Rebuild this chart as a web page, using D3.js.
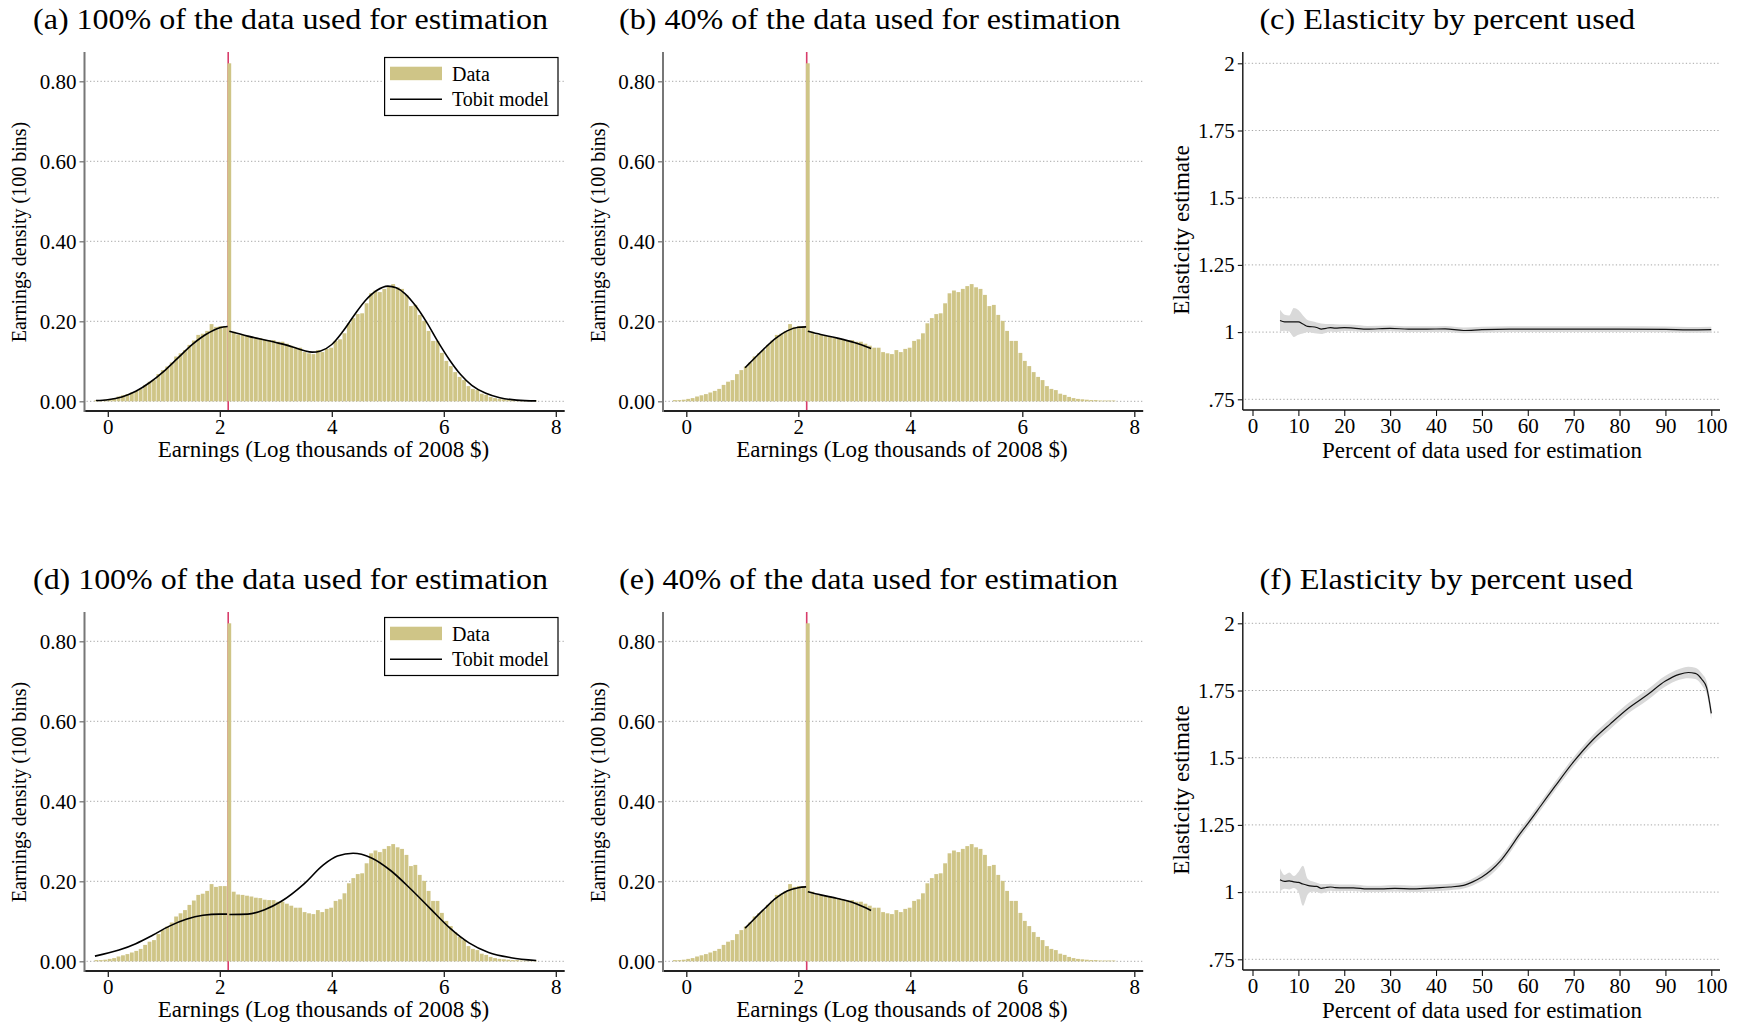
<!DOCTYPE html>
<html>
<head>
<meta charset="utf-8">
<script src="https://cdn.jsdelivr.net/npm/d3@7"></script>
<style>
  body { margin: 0; background: #fff; }
  text { font-family: "Liberation Serif", "Times New Roman", "DejaVu Serif", serif; fill: #000; }
</style>
</head>
<body>
<svg id="chart" width="1743" height="1026" font-family="Liberation Serif, serif"></svg>
<script>
// ---- histogram of log earnings (100 bins, same sample in a, b, d, e)
var binStart = -0.238;
var binWidth = 0.0791;
var earningsDensity = [
  0.003, 0.003, 0.004, 0.006, 0.008, 0.012, 0.015, 0.018, 0.022, 0.026,
  0.031, 0.041, 0.049, 0.053, 0.068, 0.078, 0.087, 0.097, 0.112, 0.120,
  0.128, 0.141, 0.152, 0.166, 0.169, 0.176, 0.193, 0.186, 0.188, 0.188,
  0.845, 0.174, 0.167, 0.166, 0.164, 0.162, 0.159, 0.158, 0.154, 0.153,
  0.153, 0.149, 0.149, 0.144, 0.139, 0.134, 0.134, 0.123, 0.120, 0.118,
  0.128, 0.123, 0.131, 0.134, 0.151, 0.155, 0.170, 0.195, 0.208, 0.218,
  0.220, 0.245, 0.270, 0.277, 0.273, 0.281, 0.288, 0.293, 0.285, 0.281,
  0.266, 0.238, 0.241, 0.216, 0.201, 0.176, 0.151, 0.151, 0.121, 0.101,
  0.088, 0.073, 0.061, 0.053, 0.038, 0.031, 0.028, 0.019, 0.016, 0.011,
  0.008, 0.006, 0.005, 0.004, 0.003, 0.003, 0.002, 0.002, 0.002, 0.002
];
var spikeEarnings = 2.15;   // red reference line

// ---- Tobit model densities, [earnings, density]
var tobitA_low = [[-0.21, 0.002], [0, 0.004], [0.25, 0.011], [0.5, 0.025], [0.75, 0.047], [1.0, 0.075],
  [1.25, 0.108], [1.5, 0.141], [1.75, 0.167], [2.0, 0.184], [2.14, 0.187]];
var tobitA_high = [[2.17, 0.175], [2.5, 0.163], [3.0, 0.147], [3.3, 0.136], [3.5, 0.127], [3.65, 0.123],
  [3.8, 0.126], [4.0, 0.142], [4.2, 0.175], [4.4, 0.215], [4.6, 0.252], [4.8, 0.277], [5.0, 0.288],
  [5.15, 0.284], [5.3, 0.27], [5.5, 0.238], [5.7, 0.196], [5.9, 0.148], [6.1, 0.104], [6.3, 0.067],
  [6.5, 0.040], [6.75, 0.020], [7.0, 0.009], [7.3, 0.003], [7.65, 0.001]];
var tobitB_low = [[1.05, 0.084], [1.2, 0.105], [1.4, 0.133], [1.6, 0.158], [1.8, 0.176], [2.0, 0.185], [2.14, 0.186]];
var tobitB_high = [[2.17, 0.175], [2.4, 0.167], [2.7, 0.158], [3.0, 0.147], [3.3, 0.132]];
var tobitD_low = [[-0.23, 0.013], [0.2, 0.028], [0.5, 0.044], [0.8, 0.065], [1.1, 0.088], [1.4, 0.105],
  [1.7, 0.115], [2.0, 0.118], [2.13, 0.118]];
var tobitD_high = [[2.17, 0.117], [2.5, 0.118], [2.8, 0.129], [3.1, 0.150], [3.5, 0.193], [3.85, 0.241],
  [4.1, 0.263], [4.38, 0.270], [4.7, 0.259], [5.05, 0.227], [5.4, 0.182], [5.75, 0.133], [6.1, 0.084],
  [6.45, 0.046], [6.8, 0.022], [7.2, 0.009], [7.65, 0.002]];
var tobitE_low = [[1.05, 0.083], [1.2, 0.104], [1.4, 0.132], [1.6, 0.158], [1.8, 0.176], [2.0, 0.184], [2.14, 0.186]];
var tobitE_high = [[2.17, 0.174], [2.4, 0.166], [2.7, 0.157], [2.95, 0.148], [3.15, 0.137], [3.3, 0.127]];

// ---- elasticity by percent of data used
var pctC = [6, 7, 8, 9, 10, 11, 12, 13, 14, 15, 16, 17, 18, 20, 22, 25, 30, 34, 38, 42, 46, 50, 56, 62, 70, 80, 90, 95, 100];
var estC = [1.043, 1.038, 1.038, 1.038, 1.038, 1.030, 1.021, 1.020, 1.017, 1.011, 1.014, 1.017, 1.015, 1.017, 1.015,
  1.011, 1.014, 1.011, 1.011, 1.012, 1.006, 1.009, 1.011, 1.011, 1.011, 1.011, 1.010, 1.008, 1.009];
var loC = [1.002, 1.005, 1.002, 0.982, 0.990, 0.995, 1.000, 0.998, 0.995, 0.993, 0.998, 1.002, 1.000, 1.004, 1.003,
  1.000, 1.003, 1.000, 1.000, 1.001, 0.996, 0.998, 1.000, 1.000, 1.000, 1.000, 0.999, 0.998, 0.998];
var hiC = [1.083, 1.065, 1.062, 1.090, 1.082, 1.062, 1.045, 1.040, 1.036, 1.032, 1.030, 1.030, 1.029, 1.028, 1.027,
  1.023, 1.025, 1.022, 1.022, 1.023, 1.017, 1.020, 1.022, 1.022, 1.022, 1.022, 1.021, 1.019, 1.020];

var pctF = [6, 7, 8, 9, 10, 11, 12, 13, 14, 15, 16, 17, 18, 20, 22, 25, 28, 31, 35, 40, 43, 46, 48,
  50, 52, 54, 56, 58, 60, 63, 66, 70, 74, 78, 82, 86, 90, 93, 95, 96.5, 98, 99, 100];
var estF = [1.046, 1.040, 1.042, 1.038, 1.036, 1.030, 1.025, 1.022, 1.021, 1.014, 1.017, 1.019, 1.017,
  1.016, 1.016, 1.012, 1.012, 1.014, 1.012, 1.016, 1.019, 1.025, 1.038,
  1.056, 1.081, 1.115, 1.160, 1.210, 1.255, 1.325, 1.395, 1.485, 1.563, 1.626, 1.685, 1.733, 1.785,
  1.810, 1.817, 1.814, 1.790, 1.760, 1.665];
var hiF = [1.089, 1.064, 1.073, 1.060, 1.075, 1.098, 1.050, 1.040, 1.035, 1.030, 1.030, 1.031, 1.029,
  1.028, 1.028, 1.024, 1.024, 1.026, 1.024, 1.028, 1.031, 1.037, 1.051,
  1.071, 1.097, 1.131, 1.176, 1.226, 1.271, 1.341, 1.411, 1.502, 1.581, 1.645, 1.704, 1.753, 1.805,
  1.830, 1.838, 1.835, 1.812, 1.783, 1.688];
var loF = [1.002, 1.012, 1.010, 1.015, 1.000, 0.949, 0.990, 1.002, 1.000, 0.995, 1.000, 1.005, 1.003,
  1.004, 1.004, 1.000, 1.000, 1.002, 1.000, 1.004, 1.007, 1.013, 1.025,
  1.041, 1.065, 1.099, 1.144, 1.194, 1.239, 1.309, 1.379, 1.468, 1.545, 1.607, 1.666, 1.713, 1.765,
  1.790, 1.796, 1.793, 1.768, 1.737, 1.642];

var histTicksX = [0, 2, 4, 6, 8];
var histTicksY = [0, 0.2, 0.4, 0.6, 0.8];
var elasTicksX = [0, 10, 20, 30, 40, 50, 60, 70, 80, 90, 100];
var elasTicksY = [0.75, 1, 1.25, 1.5, 1.75, 2];

var barColor = "#cfc587";
var redColor = "#d83d6b";
var gridColor = "#a8a8a8";

var svg = d3.select("#chart");
svg.append("rect").attr("width", 1743).attr("height", 1026).attr("fill", "#fff");

function grid(g, y, ticks, x0, x1) {
  g.append("g").selectAll("line").data(ticks).join("line")
    .attr("x1", x0 + 2).attr("x2", x1)
    .attr("y1", d => y(d)).attr("y2", d => y(d))
    .attr("stroke", gridColor).attr("stroke-width", 1)
    .attr("stroke-dasharray", "1.3,2.2");
}

function title(g, txt, x0, x1, cy) {
  g.append("text").attr("x", x0).attr("y", cy).attr("dy", "0.35em")
    .attr("font-size", 30).attr("textLength", x1 - x0)
    .attr("lengthAdjust", "spacingAndGlyphs").text(txt);
}

function drawHist(p) {
  var g = svg.append("g").attr("transform", "translate(" + p.ox + "," + p.oy + ")");
  var axX = 84.5, axY = 411, right = 564.7, top = 52;
  var x = d3.scaleLinear().domain([0, 8]).range([107.8, 555.8]);
  var y = d3.scaleLinear().domain([0, 0.8]).range([401.3, 81.3]);

  title(g, p.title, p.tx0, p.tx1, 18);
  grid(g, y, histTicksY, axX, right);

  // reference line at the spike, drawn behind the bars
  g.append("line").attr("x1", x(spikeEarnings)).attr("x2", x(spikeEarnings))
    .attr("y1", top).attr("y2", axY).attr("stroke", redColor).attr("stroke-width", 1.6);

  g.append("g").selectAll("rect").data(earningsDensity).join("rect")
    .attr("x", (d, i) => x(binStart + i * binWidth))
    .attr("width", (d, i) => x(binStart + (i + 1) * binWidth) - x(binStart + i * binWidth) - 0.6)
    .attr("y", d => y(d))
    .attr("height", d => y(0) - y(d))
    .attr("fill", barColor);

  var line = d3.line().x(d => x(d[0])).y(d => y(d[1])).curve(d3.curveMonotoneX);
  p.tobit.forEach(seg => {
    g.append("path").attr("d", line(seg)).attr("fill", "none")
      .attr("stroke", "#000").attr("stroke-width", 1.6);
  });

  // axes
  var xa = g.append("g").attr("transform", "translate(0," + axY + ")")
    .call(d3.axisBottom(x).tickValues(histTicksX).tickFormat(d3.format("d")).tickSize(6).tickPadding(2));
  xa.attr("font-family", null).select(".domain").remove();
  xa.selectAll("text").attr("font-size", 21);
  xa.selectAll(".tick line").attr("stroke", "#222").attr("stroke-width", 1.3);
  g.append("line").attr("x1", axX).attr("x2", right).attr("y1", axY).attr("y2", axY)
    .attr("stroke", "#222").attr("stroke-width", 1.8);

  var ya = g.append("g").attr("transform", "translate(" + axX + ",0)")
    .call(d3.axisLeft(y).tickValues(histTicksY).tickFormat(d3.format(".2f")).tickSize(5).tickPadding(3));
  ya.attr("font-family", null).select(".domain").remove();
  ya.selectAll("text").attr("font-size", 21);
  ya.selectAll(".tick line").attr("stroke", "#777").attr("stroke-width", 1.3);
  g.append("line").attr("x1", axX).attr("x2", axX).attr("y1", top).attr("y2", axY + 1)
    .attr("stroke", "#777").attr("stroke-width", 2);

  g.append("text").attr("x", 323.5).attr("y", 449).attr("dy", "0.35em")
    .attr("text-anchor", "middle").attr("font-size", 23)
    .text("Earnings (Log thousands of 2008 $)");
  g.append("text").attr("transform", "translate(19,232) rotate(-90)").attr("dy", "0.35em")
    .attr("text-anchor", "middle").attr("font-size", 20)
    .text("Earnings density (100 bins)");

  if (p.legend) {
    var lg = g.append("g");
    lg.append("rect").attr("x", 384.6).attr("y", 57.5).attr("width", 173.4).attr("height", 58)
      .attr("fill", "#fff").attr("stroke", "#000").attr("stroke-width", 1.2);
    lg.append("rect").attr("x", 390).attr("y", 66.7).attr("width", 52).attr("height", 13.5).attr("fill", barColor);
    lg.append("line").attr("x1", 390).attr("x2", 442).attr("y1", 99.3).attr("y2", 99.3)
      .attr("stroke", "#000").attr("stroke-width", 1.4);
    lg.append("text").attr("x", 452).attr("y", 74).attr("dy", "0.35em").attr("font-size", 20).text("Data");
    lg.append("text").attr("x", 452).attr("y", 99).attr("dy", "0.35em").attr("font-size", 20).text("Tobit model");
  }
}

function drawElas(p) {
  var g = svg.append("g").attr("transform", "translate(0," + p.oy + ")");
  var axX = 1242.8, axY = 410, right = 1720, top = 52;
  var x = d3.scaleLinear().domain([0, 100]).range([1252.5, 1711.3]);
  var y = d3.scaleLinear().domain([0.75, 2]).range([399.3, 63.3]);

  title(g, p.title, p.tx0, p.tx1, 18);
  grid(g, y, elasTicksY, axX, right);

  var rows = p.pct.map((v, i) => ({ p: v, e: p.est[i], lo: p.lo[i], hi: p.hi[i] }));
  g.append("path").datum(rows)
    .attr("d", d3.area().x(d => x(d.p)).y0(d => y(d.lo)).y1(d => y(d.hi)).curve(d3.curveMonotoneX))
    .attr("fill", "#d9d9d9");
  g.append("path").datum(rows)
    .attr("d", d3.line().x(d => x(d.p)).y(d => y(d.e)).curve(d3.curveMonotoneX))
    .attr("fill", "none").attr("stroke", "#111").attr("stroke-width", 1.2);

  var xa = g.append("g").attr("transform", "translate(0," + axY + ")")
    .call(d3.axisBottom(x).tickValues(elasTicksX).tickFormat(d3.format("d")).tickSize(6).tickPadding(2));
  xa.attr("font-family", null).select(".domain").remove();
  xa.selectAll("text").attr("font-size", 21);
  xa.selectAll(".tick line").attr("stroke", "#111").attr("stroke-width", 1.1);
  g.append("line").attr("x1", axX).attr("x2", right).attr("y1", axY).attr("y2", axY)
    .attr("stroke", "#111").attr("stroke-width", 1.4);

  var fmtY = d => d === 1 ? "1" : d === 2 ? "2" : d3.format(".3~f")(d).replace(/^0/, "");
  var ya = g.append("g").attr("transform", "translate(" + axX + ",0)")
    .call(d3.axisLeft(y).tickValues(elasTicksY).tickFormat(fmtY).tickSize(5).tickPadding(3));
  ya.attr("font-family", null).select(".domain").remove();
  ya.selectAll("text").attr("font-size", 21);
  ya.selectAll(".tick line").attr("stroke", "#111").attr("stroke-width", 1.1);
  g.append("line").attr("x1", axX).attr("x2", axX).attr("y1", top).attr("y2", axY)
    .attr("stroke", "#111").attr("stroke-width", 1.4);

  g.append("text").attr("x", 1482).attr("y", 450).attr("dy", "0.35em")
    .attr("text-anchor", "middle").attr("font-size", 23)
    .text("Percent of data used for estimation");
  g.append("text").attr("transform", "translate(1180.5,230) rotate(-90)").attr("dy", "0.35em")
    .attr("text-anchor", "middle").attr("font-size", 23)
    .text("Elasticity estimate");
}

drawHist({ title: "(a) 100% of the data used for estimation", ox: 0, oy: 0, tx0: 33, tx1: 548,
  legend: true, tobit: [tobitA_low, tobitA_high] });
drawHist({ title: "(b) 40% of the data used for estimation", ox: 578.5, oy: 0, tx0: 619 - 578.5, tx1: 1120.5 - 578.5,
  legend: false, tobit: [tobitB_low, tobitB_high] });
drawHist({ title: "(d) 100% of the data used for estimation", ox: 0, oy: 560, tx0: 33, tx1: 548,
  legend: true, tobit: [tobitD_low, tobitD_high] });
drawHist({ title: "(e) 40% of the data used for estimation", ox: 578.5, oy: 560, tx0: 619 - 578.5, tx1: 1118 - 578.5,
  legend: false, tobit: [tobitE_low, tobitE_high] });
drawElas({ title: "(c) Elasticity by percent used", oy: 0, tx0: 1259.4, tx1: 1635.2,
  pct: pctC, est: estC, lo: loC, hi: hiC });
drawElas({ title: "(f) Elasticity by percent used", oy: 560, tx0: 1259.4, tx1: 1633,
  pct: pctF, est: estF, lo: loF, hi: hiF });
</script>
</body>
</html>
